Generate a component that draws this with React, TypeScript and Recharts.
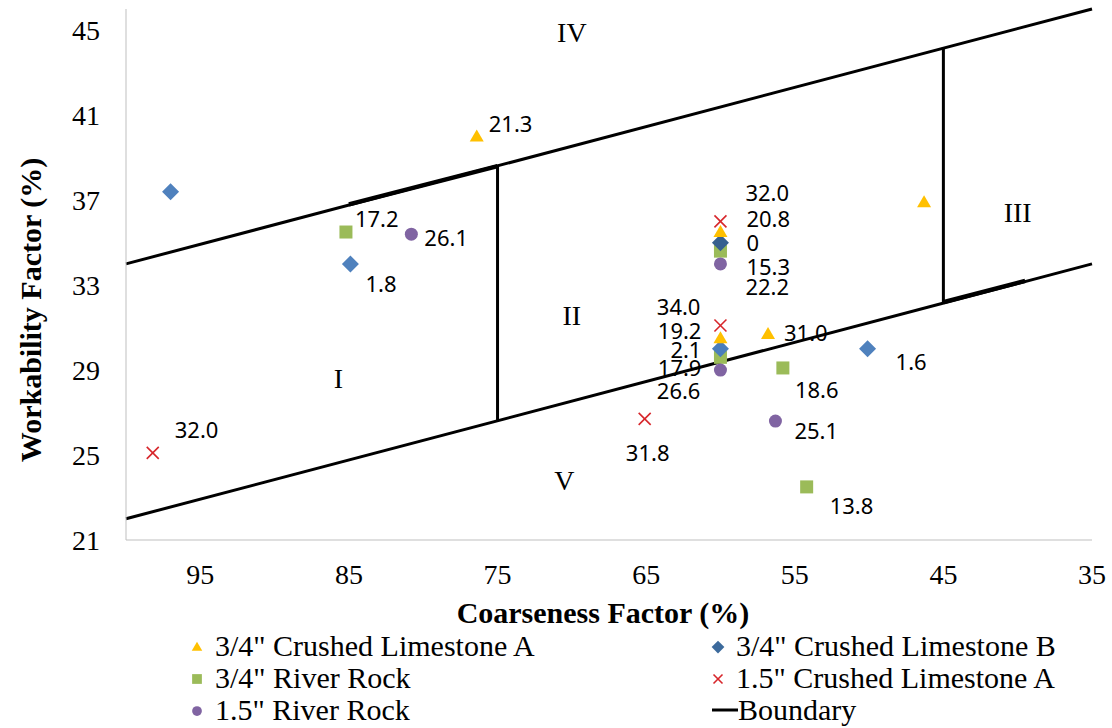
import React from 'react'
import { ReferenceLine, Scatter, ScatterChart, XAxis, YAxis } from 'recharts'

const SERIF = '"Liberation Serif", "Times New Roman", serif'
const SANS = '"Noto Sans", "Open Sans", sans-serif'

// axis ticks
const xTicks = [95, 85, 75, 65, 55, 45, 35]
const yTicks = [21, 25, 29, 33, 37, 41, 45]

// 3/4" Crushed Limestone A
const limeAX = [76.4, 60, 60, 56.8, 46.3]
const limeAY = [40.0, 35.5, 30.5, 30.7, 36.9]
const limeALabels = ['21.3', '20.8', '19.2', '31.0', '']

// 3/4" Crushed Limestone B
const limeBX = [97.0, 84.9, 60, 60, 50.1]
const limeBY = [37.4, 34.0, 35.0, 30.0, 30.0]
const limeBLabels = ['', '1.8', '0', '2.1', '1.6']

// 3/4" River Rock
const riverX = [85.2, 60, 60, 55.8, 54.2]
const riverY = [35.5, 34.6, 29.6, 29.1, 23.5]
const riverLabels = ['17.2', '15.3', '17.9', '18.6', '13.8']

// 1.5" Crushed Limestone A
const lime15X = [98.2, 60, 60, 65.1]
const lime15Y = [25.1, 36.0, 31.1, 26.7]
const lime15Labels = ['32.0', '32.0', '34.0', '31.8']

// 1.5" River Rock
const river15X = [80.8, 60, 60, 56.3]
const river15Y = [35.4, 34.0, 29.0, 26.6]
const river15Labels = ['26.1', '22.2', '26.6', '25.1']

// boundary segments [x1, y1, x2, y2]
const boundaries = [
  [100, 34, 35, 46],
  [100, 22, 35, 34],
  [75, 26.6, 75, 38.6],
  [45, 32.2, 45, 44.2],
]
const boundaryOverlaps = [
  [85, 36.8, 75, 38.6],
  [45, 32.2, 39.5, 33.2],
]

// zone names
const zoneNames = ['I', 'II', 'III', 'IV', 'V']
const zoneX = [85.7, 70, 40, 70, 70.5]
const zoneY = [28.6, 31.55, 36.4, 44.9, 23.8]

// label placement (dx, dy, anchor) per point, kept apart from the data
const limeAOffsets = [[12, -13, 'start'], [26, -14, 'start'], [-19, -8, 'end'], [16, -2, 'start'], [0, 0, 'start']]
const limeBOffsets = [[0, 0, 'start'], [15, 19, 'start'], [26, -1, 'start'], [-19, 0, 'end'], [28, 12, 'start']]
const riverOffsets = [[9, -14, 'start'], [26, 15, 'start'], [-19, 10, 'end'], [12, 21, 'start'], [23, 18, 'start']]
const lime15Offsets = [[22, -24, 'start'], [25, -29, 'start'], [-20, -19, 'end'], [3, 33, 'middle']]
const river15Offsets = [[13, 3, 'start'], [25, 22, 'start'], [-20, 20, 'end'], [19, 9, 'start']]

const diamondColors = ['#4F81BD', '#4F81BD', '#36608F', '#4A7DBB', '#4F81BD']

const build = (xs: number[], ys: number[], labels: string[]) =>
  xs.map((x, i) => ({ x, y: ys[i], label: labels[i], i }))

const limeAData = build(limeAX, limeAY, limeALabels)
const limeBData = build(limeBX, limeBY, limeBLabels)
const riverData = build(riverX, riverY, riverLabels)
const lime15Data = build(lime15X, lime15Y, lime15Labels)
const river15Data = build(river15X, river15Y, river15Labels)
const zoneData = zoneNames.map((name, i) => ({ x: zoneX[i], y: zoneY[i], name }))

const drawMarker = (kind: string, cx: number, cy: number, color: string, s = 1) => {
  if (kind === 'triangle') {
    return <polygon points={`${cx},${cy - 7 * s} ${cx + 7 * s},${cy + 5 * s} ${cx - 7 * s},${cy + 5 * s}`} fill={color} />
  }
  if (kind === 'diamond') {
    return <polygon points={`${cx},${cy - 8.5 * s} ${cx + 8.5 * s},${cy} ${cx},${cy + 8.5 * s} ${cx - 8.5 * s},${cy}`} fill={color} />
  }
  if (kind === 'square') {
    return <rect x={cx - 6.5 * s} y={cy - 6.5 * s} width={13 * s} height={13 * s} fill={color} />
  }
  if (kind === 'cross') {
    const h = 6 * s
    return (
      <g stroke={color} strokeWidth={1.6}>
        <line x1={cx - h} y1={cy - h} x2={cx + h} y2={cy + h} />
        <line x1={cx - h} y1={cy + h} x2={cx + h} y2={cy - h} />
      </g>
    )
  }
  return <circle cx={cx} cy={cy} r={6.5 * s} fill={color} />
}

const makeShape = (kind: string, color: string | string[], offsets: any[]) => (props: any) => {
  const { cx, cy, payload } = props
  const i = payload.i
  const fill = Array.isArray(color) ? color[i] : color
  const [dx, dy, anchor] = offsets[i]
  return (
    <g>
      {drawMarker(kind, cx, cy, fill)}
      {payload.label ? (
        <text x={cx + dx} y={cy + dy} textAnchor={anchor} dominantBaseline="central" fontFamily={SANS} fontSize={22} fill="#000">
          {payload.label}
        </text>
      ) : null}
    </g>
  )
}

const zoneShape = (props: any) => (
  <text x={props.cx} y={props.cy} textAnchor="middle" dominantBaseline="central" fontFamily={SERIF} fontSize={28} fill="#000">
    {props.payload.name}
  </text>
)

const legendItems = [
  { name: '3/4" Crushed Limestone A', kind: 'triangle', color: '#FFC000', col: 0, row: 0 },
  { name: '3/4" Crushed Limestone B', kind: 'diamond', color: '#3C6A9C', col: 1, row: 0 },
  { name: '3/4" River Rock', kind: 'square', color: '#9BBB59', col: 0, row: 1 },
  { name: '1.5" Crushed Limestone A', kind: 'cross', color: '#D7262B', col: 1, row: 1 },
  { name: '1.5" River Rock', kind: 'circle', color: '#8064A2', col: 0, row: 2 },
  { name: 'Boundary', kind: 'line', color: '#000', col: 1, row: 2 },
]

const LegendBox = () => (
  <>
    {legendItems.map((item) => {
      const left = item.col === 0 ? 185 : 706
      const top = 630 + item.row * 32
      return (
        <div
          key={item.name}
          style={{ position: 'absolute', left, top, height: 32, display: 'flex', alignItems: 'center', fontFamily: SERIF, fontSize: 30, lineHeight: '32px', whiteSpace: 'nowrap' }}
        >
          <svg width={item.kind === 'line' ? 32 : 30} height={32}>
            {item.kind === 'line' ? (
              <line x1={6} y1={16} x2={32} y2={16} stroke="#000" strokeWidth={3} />
            ) : (
              drawMarker(item.kind, 12, 17, item.color, 0.75)
            )}
          </svg>
          <span>{item.name}</span>
        </div>
      )
    })}
  </>
)

const App = () => {
  return (
    <div style={{ position: 'absolute', left: 0, top: 0, width: 1112, height: 728, background: '#fff' }}>
      <ScatterChart width={1112} height={728} margin={{ top: 9, right: 20, left: 0, bottom: 0 }}>
        <XAxis
          type="number"
          dataKey="x"
          domain={[35, 100]}
          reversed
          ticks={xTicks}
          interval={0}
          allowDataOverflow
          height={188}
          tickSize={0}
          tickLine={false}
          tickMargin={24}
          axisLine={{ stroke: '#BFBFBF', strokeWidth: 1 }}
          tick={{ fontFamily: SERIF, fontSize: 28, fill: '#000' }}
          label={{
            content: (p: any) => {
              const vb = p.viewBox
              return (
                <text x={vb.x + vb.width / 2 - 6} y={612} textAnchor="middle" dominantBaseline="central" fontFamily={SERIF} fontWeight="bold" fontSize={30} fill="#000">
                  Coarseness Factor (%)
                </text>
              )
            },
          }}
        />
        <YAxis
          type="number"
          dataKey="y"
          domain={[21, 46]}
          ticks={yTicks}
          interval={0}
          allowDataOverflow
          width={126}
          tickSize={0}
          tickLine={false}
          tickMargin={26}
          axisLine={{ stroke: '#BFBFBF', strokeWidth: 1 }}
          tick={{ fontFamily: SERIF, fontSize: 28, fill: '#000' }}
          label={{
            content: () => (
              <text x={30} y={310} transform="rotate(-90 30 310)" textAnchor="middle" dominantBaseline="central" fontFamily={SERIF} fontWeight="bold" fontSize={30} fill="#000">
                Workability Factor (%)
              </text>
            ),
          }}
        />
        {boundaries.map((b, i) => (
          <ReferenceLine key={`b${i}`} segment={[{ x: b[0], y: b[1] }, { x: b[2], y: b[3] }]} stroke="#000" strokeWidth={3} ifOverflow="visible" />
        ))}
        {boundaryOverlaps.map((b, i) => (
          <ReferenceLine key={`o${i}`} segment={[{ x: b[0], y: b[1] }, { x: b[2], y: b[3] }]} stroke="#000" strokeWidth={4.5} ifOverflow="visible" />
        ))}
        <Scatter data={zoneData} shape={zoneShape} isAnimationActive={false} />
        <Scatter name='3/4" River Rock' data={riverData} shape={makeShape('square', '#9BBB59', riverOffsets)} isAnimationActive={false} />
        <Scatter name='1.5" River Rock' data={river15Data} shape={makeShape('circle', '#8064A2', river15Offsets)} isAnimationActive={false} />
        <Scatter name='3/4" Crushed Limestone B' data={limeBData} shape={makeShape('diamond', diamondColors, limeBOffsets)} isAnimationActive={false} />
        <Scatter name='3/4" Crushed Limestone A' data={limeAData} shape={makeShape('triangle', '#FFC000', limeAOffsets)} isAnimationActive={false} />
        <Scatter name='1.5" Crushed Limestone A' data={lime15Data} shape={makeShape('cross', '#D7262B', lime15Offsets)} isAnimationActive={false} />
      </ScatterChart>
      <LegendBox />
    </div>
  )
}

export default App
